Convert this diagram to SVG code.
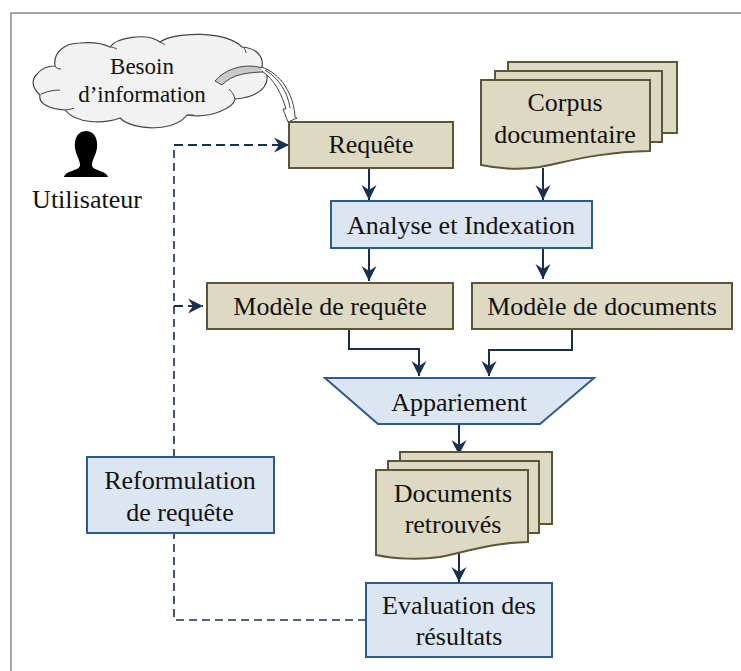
<svg xmlns="http://www.w3.org/2000/svg" width="741" height="671" viewBox="0 0 741 671">
<style>
text{font-family:"Liberation Serif","Times New Roman",serif;font-size:26px;fill:#111;text-anchor:middle}
.tan{fill:#ddd9c3;stroke:#5c5636;stroke-width:2}
.blue{fill:#dce6f2;stroke:#2f5a8f;stroke-width:2}
.c{fill:none;stroke:#17304f;stroke-width:2}
.d{stroke-width:1.6;stroke-dasharray:8 5}
.h{stroke-width:2;stroke-dasharray:9 5}
.small{font-size:23px}
</style>
<defs>
<marker id="a" markerUnits="userSpaceOnUse" markerWidth="18" markerHeight="18" refX="15" refY="8" orient="auto">
<path d="M0 0.5L15 8L0 15.5L5 8Z" fill="#17304f"/>
</marker>
</defs>
<path d="M741 13H11V671" fill="none" stroke="#a6a6a6" stroke-width="2"/>
<g id="connectors">
<path class="c" d="M369 168V200" marker-end="url(#a)"/>
<path class="c" d="M543 168V200" marker-end="url(#a)"/>
<path class="c" d="M369 248V281" marker-end="url(#a)"/>
<path class="c" d="M543 248V279" marker-end="url(#a)"/>
<path class="c" d="M349 329V349H419V376" marker-end="url(#a)"/>
<path class="c" d="M572 329V350H489V376" marker-end="url(#a)"/>
<path class="c" d="M459 424V455" marker-end="url(#a)"/>
<path class="c" d="M459 550V582" marker-end="url(#a)"/>
<path class="c d" d="M174 457V145"/>
<path class="c h" d="M174 145H289" marker-end="url(#a)"/>
<path class="c h" d="M174 306H203" marker-end="url(#a)"/>
<path class="c d" d="M366 620H174V533"/>
</g>
<g id="besoin">
<path d="M55 66C53 52 65 43 80 43C90 42 102 43 110 47C116 38 146 32 160 42C176 31 226 31 242 47C256 48 264 56 262 67C268 72 269 80 264 87C258 95 246 98 235 99C234 107 212 119 187 115C176 131 134 132 120 118C104 124 76 124 65 110C50 109 38 104 40 95C32 88 31 80 37 74C41 69 48 66 55 66Z" fill="#f2f2f2" stroke="#444" stroke-width="1.2"/>
<path d="M55 66C56 68 58 69 61 69M60 90C52 90 46 92 41 94M65 110C68 110 71 109 74 108M117 49C115 48 112 47 110 47M160 42C162 43 164 44 165 45M194 115C192 115 190 115 187 115M235 99C234 95 232 92 229 89M243 47C245 49 246 51 246 53" fill="none" stroke="#444" stroke-width="1"/>
<path d="M215 81C226 68 246 63 262 68L267 72C249 72 232 74 222 85Z" fill="#c8c8c8" stroke="#444"/>
<path d="M261 67C281 73 294 95 295 117L297 118L288 122L283 109L286 109C282 95 275 80 262 71" fill="#fff" stroke="#444"/>
<path d="M265 70C279 78 288 93 290 108" fill="none" stroke="#444" stroke-width="1"/>
<text class="small" x="142" y="74">Besoin</text>
<text class="small" x="142" y="102">d’information</text>
</g>
<g id="utilisateur">
<path d="M86 131C95 131 98 140 97 148C96 155 92 160 92 165C92 171 106 170 108 177H64C66 170 80 171 80 165C80 160 76 155 75 148C74 140 77 131 86 131Z" fill="#000"/>
<text x="87" y="208">Utilisateur</text>
</g>
<g id="requete">
<rect class="tan" x="289" y="122" width="164" height="46"/>
<text x="371" y="153">Requête</text>
</g>
<g id="corpus">
<rect class="tan" x="508" y="62" width="169" height="71"/>
<rect class="tan" x="495" y="71" width="167" height="71"/>
<path class="tan" d="M481 80H650V151C600 152 570 161 540 167C520 170 500 169 481 165Z"/>
<text x="565" y="111">Corpus</text>
<text x="565" y="143">documentaire</text>
</g>
<g id="analyse">
<rect class="blue" x="331" y="201" width="261" height="47"/>
<text x="461" y="234">Analyse et Indexation</text>
</g>
<g id="modele-requete">
<rect class="tan" x="207" y="283" width="246" height="46"/>
<text x="330" y="315">Modèle de requête</text>
</g>
<g id="modele-documents">
<rect class="tan" x="472" y="283" width="260" height="46"/>
<text x="602" y="315">Modèle de documents</text>
</g>
<g id="appariement">
<path class="blue" d="M325 378H594L540 424H378Z"/>
<text x="459" y="411">Appariement</text>
</g>
<g id="documents">
<rect class="tan" x="400" y="452" width="152" height="72"/>
<rect class="tan" x="388" y="461" width="151" height="72"/>
<path class="tan" d="M376 470H528V542C490 543 465 552 440 557C420 560 395 559 376 555Z"/>
<text x="453" y="502">Documents</text>
<text x="453" y="533">retrouvés</text>
</g>
<g id="evaluation">
<rect class="blue" x="366" y="583" width="186" height="74"/>
<text x="459" y="614">Evaluation des</text>
<text x="459" y="645">résultats</text>
</g>
<g id="reformulation">
<rect class="blue" x="87" y="457" width="187" height="76"/>
<text x="180" y="489">Reformulation</text>
<text x="180" y="521">de requête</text>
</g>
</svg>
